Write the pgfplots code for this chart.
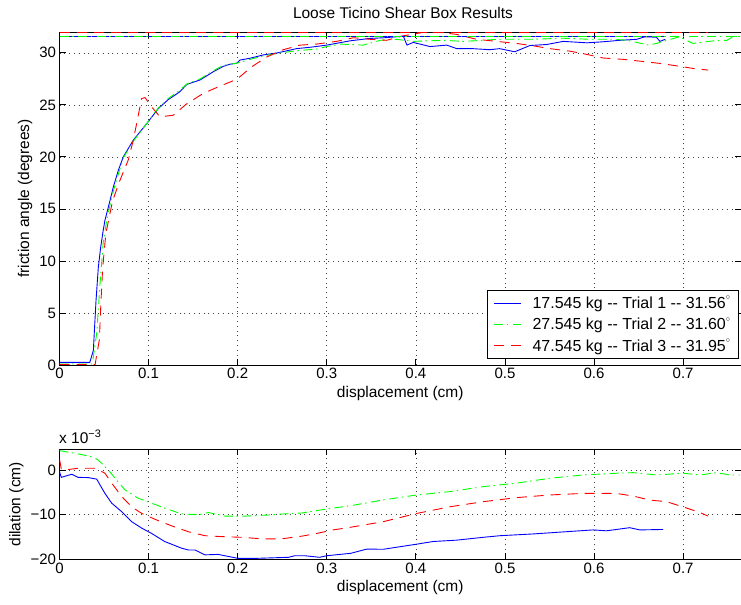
\documentclass[border=0pt]{standalone}
\usepackage{fontspec}
\setmainfont{Liberation Sans}
\usepackage{pgfplots}
\pgfplotsset{compat=1.18}
\definecolor{mblue}{rgb}{0,0,1}
\definecolor{mgreen}{rgb}{0,1,0}
\definecolor{mred}{rgb}{1,0,0}
\newcommand{\ticksize}{\fontsize{15bp}{18bp}\selectfont}
\newcommand{\labsize}{\fontsize{15.5bp}{18.5bp}\selectfont}
\newcommand{\legsize}{\fontsize{16bp}{19bp}\selectfont}
\newcommand{\dg}{\textsuperscript{\raisebox{0.35ex}{$\scriptstyle\circ$}}}
\pgfplotsset{
  common/.style={
    scale only axis, width=681.5bp,
    xmin=0, xmax=0.765,
    xtick={0,0.1,0.2,0.3,0.4,0.5,0.6,0.7},
    xticklabels={0,0.1,0.2,0.3,0.4,0.5,0.6,0.7},
    tick align=inside, major tick length=6bp,
    grid=major,
    major grid style={black!75, line width=0.6bp, dash pattern=on 0.8bp off 4bp},
    axis line style={line width=0.8bp},
    every tick/.style={black, line width=0.8bp},
    tick label style={font=\ticksize},
    label style={font=\labsize},
    /pgf/number format/assume math mode=true,
  },
  s1/.style={mblue, line width=0.9bp},
  s2/.style={mgreen, line width=0.9bp, dash pattern=on 9bp off 3.5bp on 1.5bp off 4.5bp},
  s3/.style={mred, line width=0.9bp, dash pattern=on 10bp off 7bp},
}
\begin{document}
\begin{tikzpicture}
\path[use as bounding box] (0bp,0bp) rectangle (741bp,-605bp);
\node[font=\labsize] at (403bp,-13bp) {Loose Ticino Shear Box Results};
\begin{axis}[common,
  at={(59.5bp,-365bp)}, anchor=south west, height=333bp,
  ymin=0, ymax=32,
  ytick={0,5,10,15,20,25,30},
  xlabel={displacement (cm)},
  ylabel={friction angle (degrees)},
  legend style={at={(rel axis cs:0.997,0.018)}, anchor=south east,
    draw=black, line width=0.8bp, font=\legsize, row sep=4bp, column sep=9bp,
    inner xsep=6bp, inner ysep=4bp},
  legend cell align=left,
  legend image code/.code={\draw[#1] (0bp,0bp) -- (27bp,0bp);},
]
\addplot[s1] coordinates {
(0,0.25) (0.034,0.25) (0.038,1.4) (0.041,6.2) (0.0436,9.4) (0.0462,11.3) (0.049,12.9)
(0.051,13.9) (0.0567,15.8) (0.0604,17.1) (0.066,18.7) (0.0716,20.0) (0.0828,21.6)
(0.0979,23.2) (0.111,24.65) (0.122,25.5) (0.135,26.25) (0.1428,26.96) (0.158,27.4)
(0.173,28.2) (0.184,28.7) (0.191,28.9) (0.199,29.0) (0.2026,29.3) (0.215,29.5)
(0.229,29.8) (0.245,30.0) (0.266,30.4) (0.283,30.55) (0.3,30.74) (0.326,31.15)
(0.348,31.38) (0.365,31.45) (0.378,31.54) (0.386,31.6) (0.39,30.74) (0.397,31.0)
(0.416,30.6) (0.4346,30.74) (0.446,30.4) (0.464,30.4) (0.483,30.3) (0.494,30.4)
(0.511,30.1) (0.528,30.7) (0.547,30.8) (0.5655,31.1) (0.592,30.96) (0.610,31.06)
(0.629,31.2) (0.648,31.3) (0.657,31.54) (0.67,31.5) (0.674,31.1) (0.68,31.3)
};
\addlegendentry{17.545 kg \mbox{-}\mbox{-} Trial 1 \mbox{-}\mbox{-} 31.56\dg}
\addplot[s2] coordinates {
(0,0.1) (0.036,0.1) (0.038,0.77) (0.0417,3.0) (0.0455,7.8) (0.049,11.7) (0.053,13.9)
(0.0578,15.8) (0.062,17.2) (0.0716,19.9) (0.0828,21.5) (0.0979,23.2) (0.111,24.7)
(0.122,25.6) (0.135,26.4) (0.1428,27.0) (0.158,27.5) (0.173,28.3) (0.184,28.8)
(0.199,29.0) (0.215,29.4) (0.229,29.7) (0.245,29.95) (0.266,30.2) (0.2886,30.36)
(0.3,30.6) (0.315,30.84) (0.341,30.74) (0.36,31.2) (0.378,31.3) (0.397,31.1)
(0.431,31.2) (0.453,31.1) (0.4756,31.2) (0.4907,31.3) (0.53,31.3) (0.5655,31.4)
(0.595,31.3) (0.6216,31.3) (0.638,31.2) (0.661,30.74) (0.670,30.9) (0.6815,31.2)
(0.696,31.54) (0.711,30.9) (0.734,31.15) (0.749,31.2) (0.756,31.54) (0.764,31.6)
};
\addlegendentry{27.545 kg \mbox{-}\mbox{-} Trial 2 \mbox{-}\mbox{-} 31.60\dg}
\addplot[s3] coordinates {
(0,0.05) (0.04,0.05) (0.0417,0.93) (0.0447,2.4) (0.0466,6.2) (0.0485,9.4) (0.052,12.6)
(0.0567,14.6) (0.0597,15.8) (0.0679,17.76) (0.0772,19.7) (0.0828,21.6) (0.0866,23.2)
(0.0903,24.8) (0.0922,25.6) (0.096,25.7) (0.1035,24.8) (0.1128,23.85) (0.1277,24.0)
(0.1428,25.1) (0.1614,26.1) (0.18,26.8) (0.199,27.45) (0.2157,28.65) (0.2326,29.6)
(0.2512,30.3) (0.27,30.74) (0.2886,30.84) (0.311,31.1) (0.33,31.45) (0.3485,31.3)
(0.367,31.2) (0.386,31.63) (0.408,31.96) (0.427,31.96) (0.4458,31.77) (0.468,31.3)
(0.4795,31.2) (0.513,30.9) (0.532,30.67) (0.5505,30.4) (0.573,30.16) (0.5917,29.85)
(0.6103,29.5) (0.633,29.37) (0.6515,29.2) (0.674,28.98) (0.6927,28.75) (0.711,28.5)
(0.728,28.34)
};
\addlegendentry{47.545 kg \mbox{-}\mbox{-} Trial 3 \mbox{-}\mbox{-} 31.95\dg}
\addplot[s1, forget plot] coordinates {(0,31.56) (0.68,31.56)};
\addplot[s2, forget plot] coordinates {(0,31.60) (0.765,31.60)};
\addplot[s3, forget plot] coordinates {(0,31.95) (0.728,31.95)};
\end{axis}
\begin{axis}[common,
  at={(59.5bp,-559.3bp)}, anchor=south west, height=110bp,
  ymin=-20, ymax=4.7,
  ytick={-20,-10,0},
  yticklabels={−20,−10,0},
  xlabel={displacement (cm)},
  ylabel={dilation (cm)},
]
\addplot[s1] coordinates {
(0,-0.3) (0.002,-1.6) (0.0137,-0.9) (0.021,-1.6) (0.0323,-1.65) (0.0418,-2.0)
(0.0455,-3.3) (0.051,-5.2) (0.0586,-7.4) (0.0698,-9.3) (0.081,-11.55) (0.0923,-13.0)
(0.1035,-14.2) (0.118,-16.0) (0.137,-17.5) (0.1446,-17.9) (0.152,-17.9) (0.1633,-19.0)
(0.178,-18.9) (0.2007,-19.8) (0.219,-19.8) (0.257,-19.55) (0.264,-19.2) (0.2755,-19.2)
(0.292,-19.55) (0.3,-19.2) (0.327,-18.65) (0.345,-17.7) (0.3634,-17.75) (0.401,-16.6)
(0.4195,-16.0) (0.4458,-15.7) (0.4757,-15.06) (0.4944,-14.7) (0.532,-14.3) (0.569,-13.8)
(0.599,-13.4) (0.614,-13.6) (0.640,-12.9) (0.6515,-13.4) (0.6777,-13.3)
};
\addplot[s2] coordinates {
(0,4.4) (0.0174,3.8) (0.0361,3.06) (0.0435,2.3) (0.0548,0.07) (0.064,-2.2) (0.0735,-4.4)
(0.0885,-6.3) (0.1035,-7.4) (0.118,-8.5) (0.137,-9.8) (0.156,-10.0) (0.167,-9.5)
(0.186,-10.3) (0.208,-10.3) (0.2343,-10.05) (0.2606,-9.7) (0.272,-9.6) (0.3,-8.7)
(0.327,-7.95) (0.3634,-6.67) (0.401,-5.55) (0.4383,-4.8) (0.4757,-3.68) (0.513,-2.9)
(0.5505,-1.8) (0.5879,-1.06) (0.6254,-0.67) (0.644,-0.54) (0.670,-1.06) (0.70,-0.67)
(0.719,-1.06) (0.7376,-0.54) (0.7525,-1.06) (0.7637,-1.06)
};
\addplot[s3] coordinates {
(0,2.5) (0.002,0.3) (0.006,0.07) (0.021,0.45) (0.04,0.45) (0.051,-0.67) (0.0586,-2.9)
(0.0698,-5.9) (0.081,-8.2) (0.0923,-9.7) (0.107,-11.0) (0.126,-12.5) (0.1446,-13.8)
(0.1633,-14.7) (0.182,-14.9) (0.2045,-15.06) (0.227,-15.4) (0.2494,-15.4) (0.272,-14.8)
(0.2886,-14.2) (0.307,-13.4) (0.327,-12.8) (0.3634,-11.55) (0.401,-9.7) (0.4383,-8.2)
(0.4757,-7.06) (0.513,-6.15) (0.5505,-5.55) (0.588,-5.2) (0.625,-5.2) (0.644,-5.8)
(0.6628,-6.7) (0.6815,-7.06) (0.704,-8.5) (0.719,-9.5) (0.728,-10.3)
};
\end{axis}
\node[font=\labsize, anchor=base west, inner sep=0pt] at (59bp,-443bp) {x 10\textsuperscript{−3}};
\end{tikzpicture}
\end{document}
